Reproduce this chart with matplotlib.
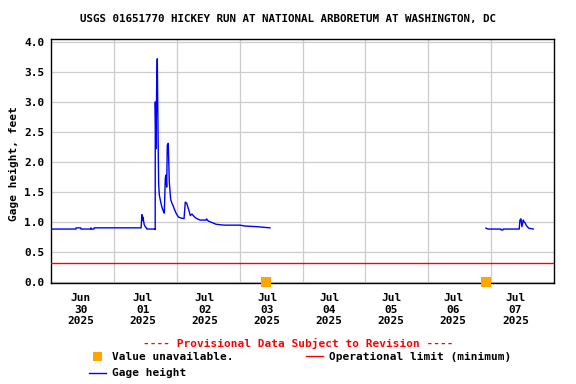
import matplotlib
matplotlib.use("Agg")
import matplotlib.pyplot as plt
from matplotlib.lines import Line2D
from matplotlib.patches import Rectangle

# ---- data (hours since 2025-06-30 00:00) ----
seg1_hours = [0, 9.4, 9.5, 11.2, 11.3, 15.0, 15.1, 15.3, 16.3, 16.4, 34.3,
              34.6, 34.85, 35.0, 35.5, 35.9, 36.2, 36.4, 36.5, 39.6, 39.68,
              39.72, 39.98, 40.25, 40.48, 40.75, 41.0, 41.25, 41.78, 42.28,
              42.77, 43.15, 43.54, 43.8, 44.07, 44.3, 44.68, 45.06, 45.6,
              46.1, 46.6, 47.1, 47.6, 48.1, 48.6, 49.15, 49.9, 50.7, 51.17,
              51.71, 52.21, 52.70, 53.08, 53.73, 54.23, 54.99, 55.76, 56.79,
              59.08, 59.3, 59.58, 60.11, 61.87, 62.90, 65.95, 72.06, 73.97,
              78.44, 83.52]
seg1_values = [0.88, 0.88, 0.90, 0.90, 0.88, 0.88, 0.90, 0.88, 0.88, 0.90, 0.90,
               1.12, 1.02, 1.08, 0.95, 0.92, 0.90, 0.90, 0.88, 0.88, 0.87,
               3.00, 2.22, 3.27, 3.72, 2.55, 1.63, 1.45, 1.33, 1.24,
               1.18, 1.145, 1.73, 1.78, 1.58, 2.28, 2.31, 1.67, 1.37,
               1.31, 1.26, 1.20, 1.15, 1.11, 1.08, 1.07, 1.06, 1.055, 1.33,
               1.31, 1.24, 1.17, 1.105, 1.13, 1.105, 1.07, 1.05, 1.03,
               1.03, 1.05, 1.03, 1.01, 0.98, 0.96, 0.945, 0.945, 0.93,
               0.92, 0.90]
seg2_hours = [166.0, 166.8, 171.7, 171.8, 172.5, 172.6, 178.72, 179.0, 179.37,
              179.76, 180.25, 180.6, 181.02, 181.29, 181.78, 182.32, 184.08]
seg2_values = [0.895, 0.88, 0.88, 0.865, 0.865, 0.88, 0.88, 1.03, 1.05,
               0.92, 1.03, 1.00, 0.98, 0.95, 0.92, 0.895, 0.88]
unavailable_hours = [82.1, 166.1]
unavailable_values = [0.0, 0.0]
operational_limit = 0.31

day_labels = ["Jun\n30\n2025", "Jul\n01\n2025", "Jul\n02\n2025", "Jul\n03\n2025",
              "Jul\n04\n2025", "Jul\n05\n2025", "Jul\n06\n2025", "Jul\n07\n2025"]
y_ticks = [0.0, 0.5, 1.0, 1.5, 2.0, 2.5, 3.0, 3.5, 4.0]

title = "USGS 01651770 HICKEY RUN AT NATIONAL ARBORETUM AT WASHINGTON, DC"

# ---- figure ----
W, H = 576, 384
fig = plt.figure(figsize=(W / 100, H / 100), dpi=100)
plt.rcParams['font.family'] = ['DejaVu Sans Mono']
FS = 8
fkw = dict(fontsize=FS, fontweight='bold', family='DejaVu Sans Mono')

left, right, top, bottom = 51.3, 554, 39, 283.3
ax = fig.add_axes([left / W, 1 - bottom / H, (right - left) / W, (bottom - top) / H])

ax.set_xlim(0, 192)
ax.set_ylim(-0.025, 4.05)

# gridlines
ax.set_xticks([24 * k for k in range(1, 8)], minor=True)
ax.set_yticks(y_ticks)
ax.grid(True, which='minor', axis='x', color='#cccccc', lw=0.9)
ax.grid(True, which='major', axis='y', color='#cccccc', lw=0.9)
ax.set_axisbelow(True)

# x tick labels (text positions drift slightly vs. day grid in reference)
label_pos = [24 * (0.468 + k * (62.1 / 62.84)) for k in range(8)]
ax.set_xticks(label_pos)
ax.set_xticklabels(day_labels, **fkw, linespacing=1.2)
ax.set_yticklabels([f"{v:.1f}" for v in y_ticks], **fkw)
ax.tick_params(axis='both', which='both', length=0)
ax.tick_params(axis='x', pad=7)
ax.tick_params(axis='y', pad=5)

for s in ax.spines.values():
    s.set_linewidth(1.0)
    s.set_color('black')

# data
ax.axhline(operational_limit, color='#ff0000', lw=1.0, zorder=3)
ax.plot(seg1_hours, seg1_values, color='#0000ff', lw=1.0, zorder=4)
ax.plot(seg2_hours, seg2_values, color='#0000ff', lw=1.0, zorder=4)
ax.plot(unavailable_hours, unavailable_values, linestyle='none', marker='s',
        markersize=6.5, color='#ffa500', markeredgewidth=0, clip_on=False, zorder=5)

ax.set_ylabel("Gage height, feet", **fkw)
ax.yaxis.set_label_coords(-0.064, 0.49)

fig.text(287.5 / W, 1 - 19 / H, title, ha='center', va='center',
         fontsize=7.8, fontweight='bold', family='DejaVu Sans Mono')

# footer
fig.text(298 / W, 1 - 343 / H, "---- Provisional Data Subject to Revision ----",
         ha='center', va='center', color='#ff0000', **fkw)

# legend (manual)
fig.patches.append(Rectangle(((97.5 - 4.5) / W, 1 - (356.7 + 4.5) / H), 9 / W, 9 / H,
                             transform=fig.transFigure, color='#ffa500', lw=0))
fig.text(111.7 / W, 1 - 356.7 / H, "Value unavailable.", ha='left', va='center', **fkw)
fig.lines.append(Line2D([305.7 / W, 322.7 / W], [1 - 356 / H, 1 - 356 / H],
                        transform=fig.transFigure, color='#ff0000', lw=1.0))
fig.text(328.7 / W, 1 - 356.7 / H, "Operational limit (minimum)", ha='left', va='center', **fkw)
fig.lines.append(Line2D([88.7 / W, 105.7 / W], [1 - 372.7 / H, 1 - 372.7 / H],
                        transform=fig.transFigure, color='#0000ff', lw=1.0))
fig.text(111.7 / W, 1 - 372.7 / H, "Gage height", ha='left', va='center', **fkw)

fig.savefig("out.png", dpi=100)
